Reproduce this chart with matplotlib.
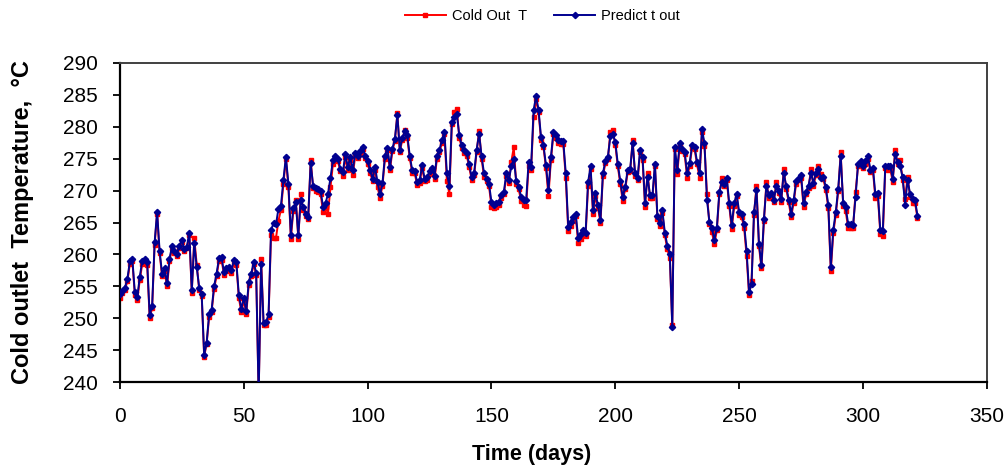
import numpy as np
import matplotlib
matplotlib.use("Agg")
import matplotlib.pyplot as plt

plt.rcParams['font.family'] = ['Liberation Sans', 'DejaVu Sans']

# predicted outlet temperature, one value per day (day 0 .. 322)
predict_t = [
    253.8, 254.3, 254.8, 256.2, 258.9, 259.3, 254.1, 253.3, 256.5, 259.0,
    259.3, 258.8, 250.5, 252.0, 261.9, 266.7, 260.6, 257.0, 257.8, 255.5,
    259.3, 261.3, 260.6, 260.1, 261.4, 262.2, 260.9, 261.2, 263.4, 254.4,
    261.8, 258.0, 254.8, 253.8, 244.3, 246.2, 250.6, 251.3, 255.0, 257.0,
    259.4, 259.6, 257.2, 257.8, 258.0, 257.5, 259.1, 258.8, 253.6, 251.5,
    253.2, 251.1, 255.7, 257.0, 258.8, 257.1, 238.0, 258.5, 249.2, 249.4,
    250.6, 263.8, 264.9, 264.7, 267.2, 267.6, 271.7, 275.3, 271.1, 263.1,
    267.3, 268.2, 263.0, 268.5, 267.5, 266.4, 265.9, 274.3, 270.7, 270.4,
    270.3, 270.0, 267.5, 268.0, 269.5, 272.0, 274.8, 275.4, 275.0, 273.4,
    272.9, 275.7, 273.7, 275.2, 273.2, 275.9, 275.5, 276.2, 276.9, 275.5,
    274.6, 273.2, 271.9, 273.7, 271.3, 269.4, 271.2, 275.5, 276.7, 273.7,
    276.6, 278.1, 281.8, 276.4, 278.3, 279.3, 278.7, 275.5, 273.2, 273.1,
    271.3, 271.6, 274.0, 271.9, 272.1, 273.0, 273.6, 272.3, 275.5, 276.4,
    277.9, 279.2, 272.7, 270.7, 280.8, 281.6, 282.0, 278.7, 277.1, 276.3,
    275.9, 274.1, 272.1, 272.8, 276.4, 278.9, 275.4, 272.7, 271.9, 271.1,
    268.2, 267.7, 268.1, 268.2, 269.3, 269.8, 272.7, 271.6, 273.8, 275.0,
    271.5, 270.6, 269.0, 268.6, 268.5, 274.5, 273.7, 282.6, 284.8, 282.7,
    278.4, 277.1, 274.0, 270.1, 275.2, 279.2, 278.7, 277.9, 277.7, 277.7,
    272.7, 264.3, 265.1, 265.9, 266.4, 262.6, 263.2, 263.8, 263.4, 271.3,
    273.8, 267.0, 269.6, 267.7, 265.4, 272.7, 274.7, 275.3, 278.5, 278.8,
    277.6, 274.2, 271.5, 269.0, 270.6, 273.3, 273.4, 277.5, 272.7, 272.0,
    276.4, 275.2, 268.1, 272.2, 269.3, 269.3, 274.2, 266.0, 264.9, 266.9,
    263.4, 261.4, 260.1, 248.6, 276.9, 273.3, 277.4, 276.6, 276.1, 272.7,
    274.3, 277.1, 276.9, 274.5, 272.7, 279.6, 277.4, 268.6, 265.1, 264.1,
    262.3, 264.2, 269.8, 271.3, 271.1, 272.0, 268.0, 264.6, 268.0, 269.5,
    266.6, 266.3, 264.8, 260.6, 254.1, 255.3, 266.6, 270.1, 261.7, 258.3,
    265.6, 270.7, 269.3, 269.6, 268.6, 270.7, 270.0, 268.7, 272.7, 270.7,
    268.6, 266.4, 268.5, 271.5, 272.0, 272.4, 268.0, 269.8, 270.8, 272.7,
    271.2, 272.8, 273.4, 272.0, 272.2, 270.5, 267.7, 258.0, 263.9, 266.6,
    270.3, 275.5, 268.0, 267.4, 264.8, 264.7, 264.6, 269.0, 274.2, 274.6,
    273.9, 274.6, 275.4, 273.3, 273.6, 269.4, 269.6, 263.8, 263.7, 273.9,
    273.8, 273.8, 271.9, 275.8, 274.5, 273.9, 272.1, 267.8, 271.7, 269.5,
    268.7, 268.5, 266.1]

# measured cold outlet temperature
cold_out_t = [
    253.2, 253.9, 254.4, 255.8, 258.5, 259.0, 253.7, 252.8, 256.0, 258.5,
    259.0, 258.3, 250.0, 251.6, 261.5, 266.4, 260.2, 256.6, 257.4, 255.0,
    258.9, 261.0, 260.2, 259.7, 261.0, 262.0, 260.5, 261.0, 263.0, 254.0,
    262.6, 258.4, 254.4, 253.5, 244.0, 246.0, 250.2, 251.0, 254.6, 256.6,
    259.0, 259.2, 256.8, 257.4, 257.6, 257.1, 258.8, 258.4, 253.2, 251.0,
    252.8, 250.7, 255.2, 256.6, 258.5, 256.8, 238.0, 259.3, 248.9, 249.0,
    250.2, 263.0, 262.6, 262.6, 265.3, 267.0, 271.0, 275.0, 270.6, 262.5,
    266.8, 268.6, 262.5, 269.5, 267.0, 266.0, 265.5, 274.8, 270.4, 270.0,
    269.8, 269.5, 266.7, 267.4, 266.4, 270.5, 274.2, 275.0, 274.6, 273.0,
    272.3, 275.2, 273.2, 274.8, 272.5, 275.4, 275.1, 275.8, 276.5, 275.1,
    274.2, 272.8, 271.5, 273.3, 270.6, 268.8, 270.8, 275.0, 276.3, 273.2,
    276.2, 277.8, 282.1, 276.0, 278.0, 279.5, 278.2, 275.1, 272.8, 272.7,
    270.9, 271.2, 273.6, 271.5, 271.7, 272.6, 273.2, 271.8, 275.0, 276.0,
    277.5, 278.8, 271.5, 269.5, 280.4, 282.3, 282.8, 278.3, 276.7, 275.9,
    275.5, 273.7, 271.7, 272.4, 276.0, 279.4, 275.0, 272.2, 271.5, 270.7,
    267.5, 267.3, 267.5, 267.7, 268.9, 269.4, 272.3, 271.2, 274.5, 276.8,
    271.1, 270.2, 268.3, 267.8, 267.6, 273.8, 273.3, 281.5, 284.3, 282.3,
    278.0, 276.8, 273.6, 269.1, 274.8, 278.8, 278.3, 277.5, 277.3, 277.3,
    272.0, 263.6, 264.5, 265.3, 266.1, 261.8, 262.5, 263.0, 262.9, 270.7,
    273.4, 266.3, 269.2, 267.3, 265.0, 272.3, 274.3, 274.9, 279.2, 279.5,
    277.2, 273.8, 271.1, 268.4, 270.2, 272.9, 273.0, 277.9, 272.3, 271.6,
    276.0, 274.8, 267.5, 272.8, 268.9, 268.9, 273.8, 265.5, 264.5, 266.5,
    263.0, 260.8, 259.5, 249.0, 276.5, 272.6, 277.0, 276.2, 275.7, 272.0,
    273.9, 276.7, 276.5, 274.1, 272.0, 279.2, 277.0, 269.5, 264.7, 263.5,
    261.6, 263.8, 269.4, 272.0, 270.7, 271.6, 267.6, 264.0, 267.6, 269.1,
    266.2, 265.9, 264.2, 259.8, 253.7, 255.8, 266.2, 270.8, 261.3, 257.8,
    265.2, 271.3, 268.9, 269.2, 268.2, 271.3, 269.6, 268.2, 273.4, 270.3,
    268.2, 265.8, 268.1, 271.1, 271.6, 272.0, 267.4, 269.4, 270.4, 273.4,
    270.8, 272.4, 273.9, 272.6, 271.8, 270.1, 267.3, 257.4, 263.3, 266.2,
    269.9, 276.0, 267.6, 266.8, 264.2, 264.2, 264.1, 269.8, 273.8, 274.2,
    273.5, 274.2, 275.0, 272.9, 273.2, 268.8, 269.2, 263.2, 262.9, 273.5,
    273.2, 273.4, 271.4, 276.4, 274.1, 274.8, 271.7, 268.7, 272.2, 269.0,
    268.0, 268.1, 265.7]

days = np.arange(len(predict_t))

fig = plt.figure(figsize=(10.08, 4.70), dpi=100)
ax = fig.add_axes([0.119, 0.187, 0.860, 0.679])

ax.plot(days, cold_out_t, color="#ff0000", lw=1.4, marker="s", ms=2.6,
        label="Cold Out  T", zorder=2)
ax.plot(days, predict_t, color="#000090", lw=1.4, marker="D", ms=3.2,
        label="Predict t out", zorder=3)

ax.set_xlim(0, 350)
ax.set_ylim(240, 290)
ax.set_xticks(np.arange(0, 351, 50))
ax.set_yticks(np.arange(240, 291, 5))
ax.tick_params(labelsize=15, length=5, width=1.3, direction="out")
ax.tick_params(axis="y", pad=11)
ax.tick_params(axis="x", pad=13)

for s in ["left", "bottom"]:
    ax.spines[s].set_linewidth(1.6)
    ax.spines[s].set_color("black")
for s in ["top", "right"]:
    ax.spines[s].set_linewidth(1.4)
    ax.spines[s].set_color("#404040")

ax.set_xlabel("Time (days)", fontsize=15.5, fontweight="bold")
ax.xaxis.set_label_coords(0.475, -0.195)
fig.text(0.022, 0.527, "Cold outlet  Temperature,  °C", rotation=90,
         fontsize=17, fontweight="bold", ha="center", va="center")

fig.legend(loc="upper center", bbox_to_anchor=(0.538, 1.008), ncol=2,
           frameon=False, fontsize=10.5, handlelength=2.8,
           handletextpad=0.4, columnspacing=1.9)

fig.savefig("out.png", dpi=100)
